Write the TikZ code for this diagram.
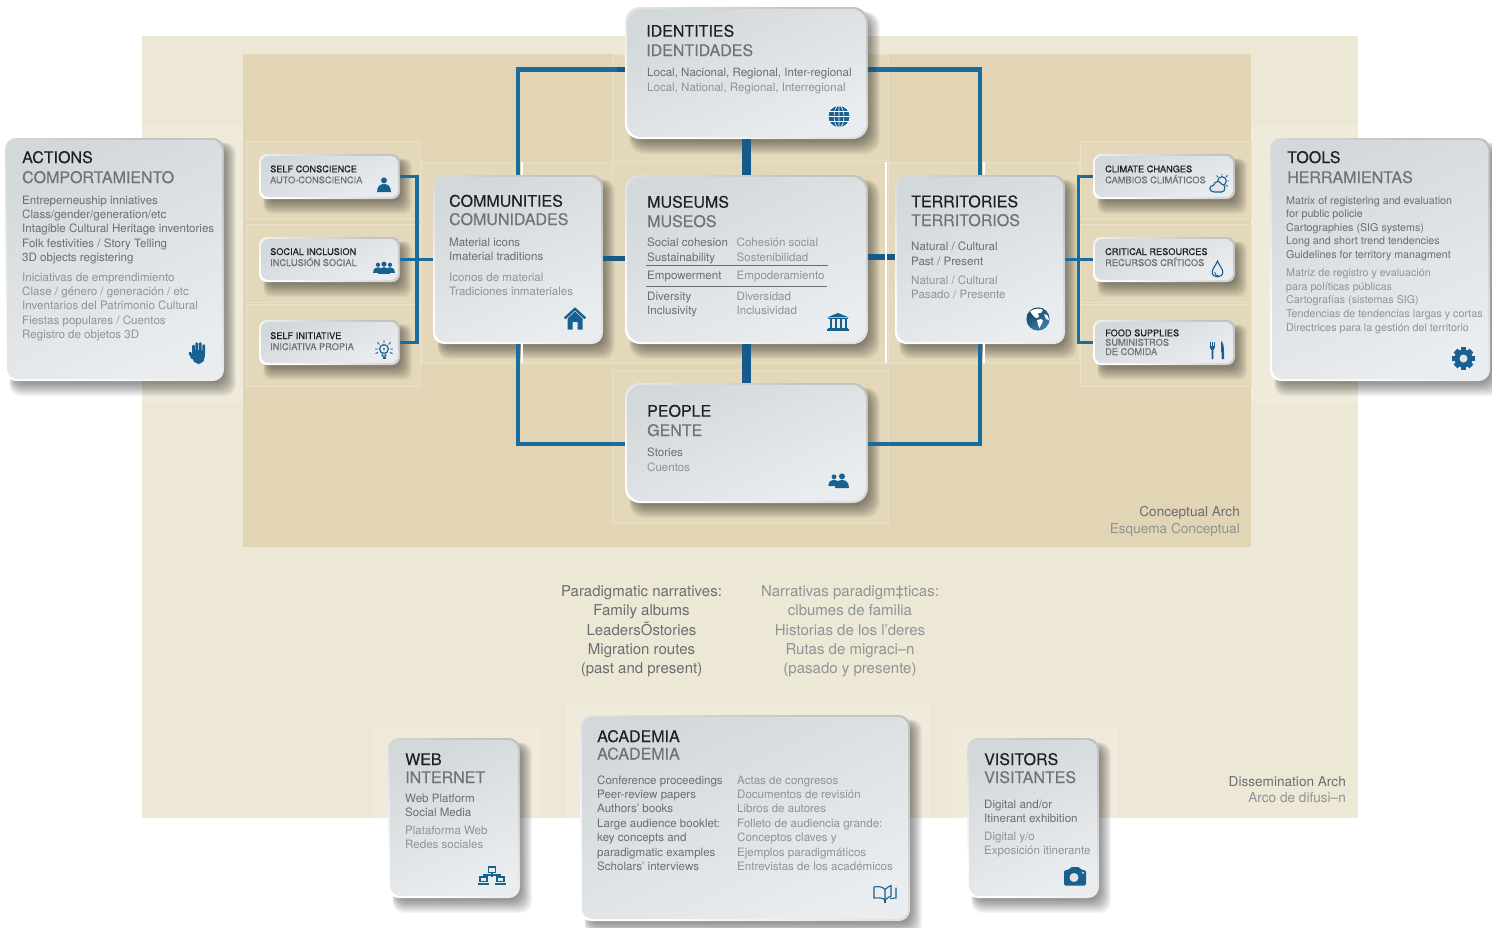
\documentclass[tikz,border=0pt]{standalone}
\usepackage{fontspec}
\setmainfont{TeX Gyre Heros}
\newfontfamily\medf[FakeBold=0.28]{TeX Gyre Heros}
\definecolor{outerbg}{HTML}{EDE8D6}
\definecolor{innerbg}{HTML}{E1D5B5}
\definecolor{patchin}{HTML}{E3D8BA}
\definecolor{patchline}{HTML}{E9E0C7}
\definecolor{patchout}{HTML}{EFEADA}
\definecolor{lineblue}{HTML}{1A6C9C}
\definecolor{stemblue}{HTML}{175A8A}
\definecolor{iconblue}{HTML}{17608F}
\definecolor{ttlblack}{HTML}{1A2128}
\definecolor{ttlgray}{HTML}{6F7376}
\definecolor{enk}{HTML}{6A6E71}
\definecolor{esk}{HTML}{8F9395}
\definecolor{facetl}{HTML}{D3D8DB}
\definecolor{facebr}{HTML}{EAEDEF}
\definecolor{facemid}{HTML}{E1E5E7}
\tikzset{
 ttl/.style={anchor=base west,inner sep=0pt,text=ttlblack,font=\medf\fontsize{16}{18}\selectfont},
 ttlb/.style={anchor=base west,inner sep=0pt,text=ttlgray,font=\medf\fontsize{16}{18}\selectfont},
 en/.style={anchor=base west,inner sep=0pt,text=enk,font=\fontsize{11.55}{14}\selectfont},
 es/.style={anchor=base west,inner sep=0pt,text=esk,font=\fontsize{11.55}{14}\selectfont},
 ensm/.style={anchor=base west,inner sep=0pt,text=enk,font=\fontsize{10.7}{14}\selectfont},
 essm/.style={anchor=base west,inner sep=0pt,text=esk,font=\fontsize{10.7}{14}\selectfont},
 smt/.style={anchor=base west,inner sep=0pt,text=ttlblack,font=\medf\fontsize{9.2}{11}\selectfont},
 sms/.style={anchor=base west,inner sep=0pt,text=ttlgray,font=\medf\fontsize{9.25}{11}\selectfont},
 arcen/.style={anchor=base east,inner sep=0pt,text=enk,font=\fontsize{13.6}{16}\selectfont},
 arces/.style={anchor=base east,inner sep=0pt,text=esk,font=\fontsize{13.6}{16}\selectfont},
 naren/.style={anchor=base,inner sep=0pt,text=enk,font=\fontsize{15}{18}\selectfont},
 nares/.style={anchor=base,inner sep=0pt,text=esk,font=\fontsize{15}{18}\selectfont},
 conn/.style={draw=lineblue,line width=4.6pt,line join=miter},
 stub/.style={draw=stemblue,line width=5.6pt},
 stem/.style={draw=stemblue,line width=9pt},
 icf/.style={fill=iconblue,draw=none},
 icl/.style={draw=iconblue,line width=1.1pt,fill=none},
 glare/.style={draw=white,line width=1.5pt},
 patch/.style={fill=patchin,draw=patchline,line width=.5pt},
 patchb/.style={fill=patchout,draw=none},
}
\newcount\tn
\newcommand\Lines[5]{\foreach \l [count=\i from 0] in {#5} {\global\advance\tn by 1
  \node[#4,name=t\the\tn] at (#1,{#2+\i*#3}) {\l};}}
\newcommand\card[6]{%
 \pgfmathsetmacro\cw{#4-#2}\pgfmathsetmacro\ch{#5-#3}\pgfmathsetmacro\cx{(#2+#4)/2}\pgfmathsetmacro\cy{(#3+#5)/2}
 \foreach \i in {0,...,13} {\fill[black,opacity=0.038,rounded corners=#6pt] ({#2+9-\i*0.35},{#3+9-\i*0.35}) rectangle ({#4-1+\i},{#5+\i*1.15});}
 \node[name=#1,rectangle,rounded corners=#6pt,inner sep=0pt,minimum width=\cw pt,minimum height=\ch pt,
   bottom color=white,top color=black!24,shading angle=-35] at (\cx,\cy) {};
 \shade[rounded corners=#6pt,top color=facetl,bottom color=facebr,shading angle=25] ({#2+1.8},{#3+1.8}) rectangle ({#4-1.8},{#5-1.8});
}
\newcommand\iperson[3]{\begin{scope}[shift={(#1,#2)},scale=#3]
 \fill[icf] (0,-4.6) circle[radius=3];
 \fill[icf] (-7,7) .. controls (-7,0.5) and (-3,-1) .. (0,-1) .. controls (3,-1) and (7,0.5) .. (7,7) -- cycle;
 \end{scope}}
\begin{document}
\begin{tikzpicture}[x=1pt,y=-1pt]
\useasboundingbox (0,0) rectangle (1492,927);
% backgrounds
\fill[white] (0,0) rectangle (1492,927);
\fill[outerbg] (142,36) rectangle (1358,818);
\fill[patchb] (142,125) rectangle (243,402);
\fill[patchb] (1251,125) rectangle (1358,404);
\fill[patchb] (373,727) rectangle (540,818);
\fill[patchb] (566,703) rectangle (930,818);
\fill[patchb] (953,727) rectangle (1118,818);
\fill[innerbg] (243,54) rectangle (1251,547);
% faint patches of the inner band
\path[patch] (246,141) rectangle (420.5,219);
\path[patch] (246,224) rectangle (420.5,302);
\path[patch] (246,304) rectangle (420.5,386);
\path[patch] (1080,141) rectangle (1251,219);
\path[patch] (1080,224) rectangle (1251,302);
\path[patch] (1080,304) rectangle (1251,386);
\path[patch] (612,54) rectangle (888,160);
\path[patch] (612,162) rectangle (888,363);
\path[patch] (612,370) rectangle (888,523);
\path[patch] (421,162) rectangle (612,363);
\path[patch] (888,162) rectangle (1079,363);
% cards
\card{identities}{625}{7}{868}{139}{15}
\card{museums}{625}{175}{868}{344}{15}
\card{people}{625}{383}{868}{503}{15}
\card{communities}{433}{175}{603}{344}{11}
\card{territories}{895}{175}{1065}{344}{11}
\card{actions}{5}{138}{224}{381}{11}
\card{tools}{1270}{138}{1490}{381}{11}
\card{selfc}{259}{154}{400}{199}{8}
\card{social}{259}{237}{400}{282}{8}
\card{initiative}{259}{320}{400}{365}{8}
\card{climate}{1093}{154}{1235}{199}{8}
\card{critical}{1093}{237}{1235}{282}{8}
\card{food}{1093}{320}{1235}{365}{8}
\card{web}{388}{738}{520}{898}{11}
\card{academia}{580}{715}{910}{921}{11}
\card{visitors}{967}{738}{1099}{898}{11}
% connectors
\coordinate (lbus) at (417,259.5);
\coordinate (rbus) at (1078.5,259.5);
\draw[conn] ([yshift=3.5pt]identities.west) -| (communities.north);
\draw[conn] ([yshift=3.5pt]identities.east) -| (territories.north);
\draw[conn] ([yshift=-1pt]people.west) -| (communities.south);
\draw[conn] ([yshift=-1pt]people.east) -| (territories.south);
\draw[stem] (identities) -- (museums);
\draw[stem] (museums) -- (people);
\draw[stub] ([yshift=1pt]communities.east) -- ([yshift=1pt]museums.west);
\draw[stub] ([yshift=2.5pt]museums.east) -- ([yshift=2.5pt]territories.west);
\draw[conn,line width=3.8pt] (selfc.east) -| (lbus) |- (initiative.east);
\draw[conn,line width=3.8pt] (social.east) -- (communities.west);
\draw[conn,line width=3.8pt] (climate.west) -| (rbus) |- (food.west);
\draw[conn,line width=3.8pt] (critical.west) -- (territories.east);
\draw[stub] ([xshift=8pt]identities.east |- 0,69.5) -- ([xshift=0pt]identities.east |- 0,69.5);
\draw[stub] ([xshift=-8pt]identities.west |- 0,69.5) -- (identities.west |- 0,69.5);
% glare lines
\coordinate (ga) at (886,162); \coordinate (gb) at (886,363);
\draw[glare] (ga) -- (gb);
\coordinate (gc) at (522,162); \coordinate (gd) at (522,175);
\draw[glare] (gc) -- (gd);
\coordinate (ge) at (522,344); \coordinate (gf) at (522,363);
\draw[glare] (ge) -- (gf);
\coordinate (gg) at (984,162); \coordinate (gh) at (984,175);
\draw[glare] (gg) -- (gh);
\coordinate (gi) at (984,344); \coordinate (gj) at (984,363);
\draw[glare] (gi) -- (gj);
% ---- texts
\Lines{646}{36.7}{19.3}{ttl}{IDENTITIES}
\Lines{646}{56}{0}{ttlb}{IDENTIDADES}
\Lines{647}{76.7}{0}{en}{{Local, Nacional, Regional, Inter-regional}}
\Lines{647}{91.3}{0}{es}{{Local, National, Regional, Interregional}}
\Lines{647}{207.7}{0}{ttl}{MUSEUMS}
\Lines{647}{227}{0}{ttlb}{MUSEOS}
\Lines{647}{246.7}{14.3}{en}{Social cohesion,Sustainability}
\Lines{736.5}{246.7}{14.3}{es}{Cohesión social,Sostenibilidad}
\Lines{647}{279}{0}{en}{Empowerment}
\Lines{736.5}{279}{0}{es}{Empoderamiento}
\Lines{647}{300.3}{14.5}{en}{Diversity,Inclusivity}
\Lines{736.5}{300.3}{14.5}{es}{Diversidad,Inclusividad}
\coordinate (ra) at (646,265.5); \coordinate (rb) at (828,265.5);
\draw[draw=enk,line width=.8pt] (ra) -- (rb);
\coordinate (rc) at (646,286); \coordinate (rd) at (827,286);
\draw[draw=enk,line width=.8pt] (rc) -- (rd);
\Lines{647}{416.7}{0}{ttl}{PEOPLE}
\Lines{647}{436}{0}{ttlb}{GENTE}
\Lines{647}{456.7}{0}{en}{Stories}
\Lines{647}{471}{0}{es}{Cuentos}
\Lines{449}{206.7}{0}{ttl}{COMMUNITIES}
\Lines{449}{225}{0}{ttlb}{COMUNIDADES}
\Lines{449}{246.3}{14.6}{en}{Material icons,Imaterial traditions}
\Lines{449}{281}{14.6}{es}{Iconos de material,Tradiciones inmateriales}
\Lines{911}{207.3}{0}{ttl}{TERRITORIES}
\Lines{911}{226}{0}{ttlb}{TERRITORIOS}
\Lines{911}{250.7}{14.4}{en}{Natural / Cultural,Past / Present}
\Lines{911}{284.3}{14.4}{es}{Natural / Cultural,Pasado / Presente}
\Lines{22}{163}{0}{ttl}{ACTIONS}
\Lines{22}{183}{0}{ttlb}{COMPORTAMIENTO}
\Lines{22}{204}{14.4}{en}{Entreperneuship inniatives,Class/gender/generation/etc,Intagible Cultural Heritage inventories,Folk festivities / Story Telling,3D objects registering}
\Lines{22}{281}{14.35}{es}{Iniciativas de emprendimiento,Clase / género / generación / etc,Inventarios del Patrimonio Cultural,Fiestas populares / Cuentos,Registro de objetos 3D}
\Lines{1287}{163}{0}{ttl}{TOOLS}
\Lines{1287}{183}{0}{ttlb}{HERRAMIENTAS}
\Lines{1286}{204}{13.6}{ensm}{Matrix of registering and evaluation,for public policie,Cartographies (SIG systems),Long and short trend tendencies,Guidelines for territory managment}
\Lines{1286}{276.7}{13.6}{essm}{Matriz de registro y evaluación,para políticas públicas,Cartografías (sistemas SIG),Tendencias de tendencias largas y cortas,Directrices para la gestión del territorio}
\Lines{270}{172.3}{0}{smt}{SELF CONSCIENCE}
\Lines{270}{183.3}{0}{sms}{AUTO-CONSCIENCIA}
\Lines{270}{255}{0}{smt}{SOCIAL INCLUSION}
\Lines{270}{266}{0}{sms}{INCLUSIÓN SOCIAL}
\Lines{270}{339}{0}{smt}{SELF INITIATIVE}
\Lines{270}{350}{0}{sms}{INICIATIVA PROPIA}
\Lines{1105}{172.3}{0}{smt}{CLIMATE CHANGES}
\Lines{1105}{183.3}{0}{sms}{CAMBIOS CLIMÁTICOS}
\Lines{1105}{255}{0}{smt}{CRITICAL RESOURCES}
\Lines{1105}{266}{0}{sms}{RECURSOS CRÍTICOS}
\Lines{1105}{336.3}{0}{smt}{FOOD SUPPLIES}
\Lines{1105}{345.7}{9.3}{sms}{SUMINISTROS,DE COMIDA}
\Lines{1240}{516}{0}{arcen}{Conceptual Arch}
\Lines{1240}{533}{0}{arces}{Esquema Conceptual}
\Lines{1346}{786}{0}{arcen}{Dissemination Arch}
\Lines{1346}{802.7}{0}{arces}{Arco de difusi–n}
\Lines{641.5}{596.7}{19.2}{naren}{Paradigmatic narratives:,Family albums,LeadersÕstories,Migration routes,{(past and present)}}
\Lines{850}{596.7}{19.2}{nares}{Narrativas paradigm‡ticas:,clbumes de familia,Historias de los l’deres,Rutas de migraci–n,{(pasado y presente)}}
\Lines{405}{765}{0}{ttl}{WEB}
\Lines{405}{783}{0}{ttlb}{INTERNET}
\Lines{405}{802}{14.4}{en}{Web Platform,Social Media}
\Lines{405}{834}{14.4}{es}{Plataforma Web,Redes sociales}
\Lines{597}{742}{0}{ttl}{ACADEMIA}
\Lines{597}{759.5}{0}{ttlb}{ACADEMIA}
\Lines{597}{784}{14.4}{en}{Conference proceedings,Peer-review papers,Authors' books,Large audience booklet:,key concepts and,paradigmatic examples,Scholars' interviews}
\Lines{737}{784}{14.4}{es}{Actas de congresos,Documentos de revisión,Libros de autores,Folleto de audiencia grande:,Conceptos claves y,Ejemplos paradigmáticos,Entrevistas de los académicos}
\Lines{984}{765}{0}{ttl}{VISITORS}
\Lines{984}{783}{0}{ttlb}{VISITANTES}
\Lines{984}{808}{14.5}{en}{Digital and/or,Itinerant exhibition}
\Lines{984}{840}{14.7}{es}{Digital y/o,Exposición itinerante}
% ---- icons
% hand
\begin{scope}[shift={(198.5,353)}]
 \draw[iconblue,line width=2.7pt,line cap=round] (-5,0)--(-5,-7) (-1.7,0)--(-1.7,-9.5) (1.8,0)--(1.8,-9.5) (5.2,0)--(5.2,-7.5) (-6,5)--(-8.5,0);
 \fill[icf,rounded corners=4pt] (-6.4,-3) -- (6.6,-3) -- (6.6,5) -- (3.5,11) -- (-3,11) -- (-6.4,6) -- cycle;
\end{scope}
% self person
\iperson{384}{185}{1}
% three people
\iperson{378}{268}{.7}\iperson{390}{268}{.7}\iperson{384}{268}{.85}
% bulb
\begin{scope}[shift={(384,350)}]
 \draw[icl] (0,-1) circle[radius=4.4];
 \draw[icl] (-2,3.5) -- (-1.6,6) -- (1.6,6) -- (2,3.5);
 \fill[icf] (-1.5,7) rectangle (1.5,8.6);
 \fill[icf] (0,-1) circle[radius=1.2];
 \draw[iconblue,line width=.9pt] (-9,-1) -- (-6,-1) (6,-1) -- (9,-1) (0,-10) -- (0,-7) (-6.6,-7.6) -- (-4.6,-5.6) (6.6,-7.6) -- (4.6,-5.6) (-8.5,3.6) -- (-6,2.4) (8.5,3.6) -- (6,2.4);
\end{scope}
% climate
\begin{scope}[shift={(1219.5,183)}]
 \draw[icl] (2.5,-2) circle[radius=4.3];
 \draw[iconblue,line width=.9pt] (2.5,-9) -- (2.5,-7.5) (-3,-7.5) -- (-1.5,-6) (8,-7.5) -- (6.5,-6) (9.5,-2) -- (8,-2) (8,3.5) -- (6.5,2);
 \draw[icl,fill=facemid] (-5.5,9) .. controls (-11,9) and (-11,2) .. (-6,2.4) .. controls (-5,-2.5) and (1,-2.5) .. (2,1) .. controls (6.5,1) and (6.5,9) .. (2,9) -- cycle;
\end{scope}
% drop
\begin{scope}[shift={(1217.5,269)}]
 \draw[icl] (0,-8) .. controls (-2,-3) and (-5.3,0) .. (-5.3,3) .. controls (-5.3,9.5) and (5.3,9.5) .. (5.3,3) .. controls (5.3,0) and (2,-3) .. (0,-8) -- cycle;
 \draw[iconblue,line width=.9pt] (-2.8,3) .. controls (-3,6) and (-1,6.7) .. (1,6.7);
\end{scope}
% fork and knife
\begin{scope}[shift={(1217,350)}]
 \draw[iconblue,line width=.9pt] (-7,-8.5) -- (-7,-3) (-4.6,-8.5) -- (-4.6,-3) (-2.2,-8.5) -- (-2.2,-3);
 \fill[icf] (-7.4,-4) -- (-1.8,-4) .. controls (-1.8,-1) and (-3.5,-1) .. (-3.7,0) -- (-3.7,9) -- (-5.5,9) -- (-5.5,0) .. controls (-5.7,-1) and (-7.4,-1) .. (-7.4,-4) -- cycle;
 \fill[icf] (4,-9) .. controls (6,-8) and (7,-4) .. (7,1) -- (7,9) -- (4.6,9) -- (4.6,2) -- (4,2) -- cycle;
\end{scope}
% gear
\begin{scope}[shift={(1463.5,358.5)}]
 \foreach \a in {0,45,90,135} {\fill[icf,rotate=\a] (-2.7,-11.2) rectangle (2.7,11.2);}
 \fill[icf] (0,0) circle[radius=9];
 \fill[facemid] (0,0) circle[radius=4];
\end{scope}
% wire globe
\begin{scope}[shift={(839,116.5)}]
 \fill[icf] (0,0) circle[radius=11];
 \draw[white,line width=.6pt] (0,0) circle[radius=11] (0,0) circle[x radius=5,y radius=11] (0,-11) -- (0,11) (-11,0) -- (11,0) (-9.5,-5) -- (9.5,-5) (-9.5,5) -- (9.5,5);
\end{scope}
% house
\begin{scope}[shift={(575,318.5)}]
 \fill[icf] (-7.5,0) -- (0,-7) -- (7.5,0) -- (7.5,11) -- (2.5,11) -- (2.5,3.5) -- (-2.5,3.5) -- (-2.5,11) -- (-7.5,11) -- cycle;
 \draw[iconblue,line width=2.4pt] (-10.3,-0.2) -- (0,-9.6) -- (10.3,-0.2);
\end{scope}
% temple
\begin{scope}[shift={(838,322)}]
 \fill[icf] (-11,-4.6) -- (0,-9) -- (11,-4.6) -- cycle;
 \fill[icf] (-10,-4) rectangle (10,-2.8);
 \foreach \x in {-7.5,-2.5,2.5,7.5} {\fill[icf] ({\x-1},-2.8) rectangle ({\x+1},5.5);}
 \fill[icf] (-10,5.5) rectangle (10,7);
 \fill[icf] (-11,7.2) rectangle (11,9);
\end{scope}
% earth
\begin{scope}[shift={(1038,319)}]
 \shade[left color=iconblue!70!black,right color=lineblue!85!white,shading angle=30] (0,0) circle[radius=11.6];
 \fill[white] (-8,-7.5) .. controls (-4,-11) and (3,-11) .. (5,-9) -- (3,-6) -- (0,-6) -- (1,-2) -- (-2,-1) -- (-5,-3.5) -- cycle;
 \fill[white] (-1,1) -- (3,0) -- (5,2) -- (3,6) -- (1.5,9) -- (0,6) -- cycle;
 \fill[white] (6,-5) -- (9.5,-3.5) -- (11,1) -- (8,0) -- cycle;
\end{scope}
% two people
\iperson{834}{480.5}{.8}\iperson{842}{481}{1}
% network
\begin{scope}[shift={(492,876)}]
 \draw[icl] (-3.5,-9) rectangle (3.5,-3.5) (-12,1) rectangle (-5,5.5) (5,1) rectangle (12,5.5);
 \draw[icl] (0,-3.5) -- (0,1) (-8.5,1) -- (-8.5,-1) -- (8.5,-1) -- (8.5,1);
 \fill[icf] (-14,6.5) rectangle (-3,9);
 \fill[icf] (3,6.5) rectangle (14,9);
\end{scope}
% book
\begin{scope}[shift={(885,894)}]
 \draw[icl] (-11,-7) .. controls (-6,-8) and (-2,-7) .. (0,-4.5) .. controls (2,-6.5) and (4,-7.5) .. (6,-8.5) -- (6,2) .. controls (4,3) and (2,4) .. (0,6) .. controls (-2,4) and (-6,3.5) .. (-11,4) -- cycle;
 \draw[icl] (0,-4.5) -- (0,6) (11,-6.5) -- (11,4) -- (5,4.5);
 \draw[icl] (0,6) -- (0,9);
\end{scope}
% camera
\begin{scope}[shift={(1075,876.5)}]
 \fill[icf,rounded corners=1.5pt] (-11,-6.5) -- (-6,-6.5) -- (-4.5,-9.5) -- (4.5,-9.5) -- (6,-6.5) -- (11,-6.5) -- (11,9) -- (-11,9) -- cycle;
 \fill[facemid] (-1,1) circle[radius=4.5];
 \fill[facemid] (8,-3.8) circle[radius=1.2];
\end{scope}
\end{tikzpicture}
\end{document}
